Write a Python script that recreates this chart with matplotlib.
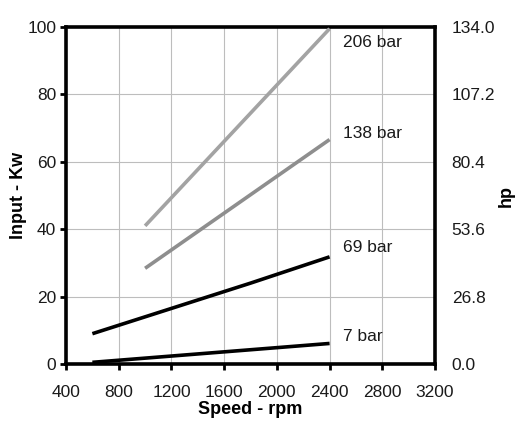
import matplotlib
matplotlib.use("Agg")
import matplotlib.pyplot as plt

plt.rcParams['font.family'] = ['Liberation Sans', 'DejaVu Sans']

# Data
speed_206 = [1000, 2400]
kw_206 = [41, 99.5]
speed_138 = [1000, 2400]
kw_138 = [28.4, 66.6]
speed_69 = [600, 1200, 1800, 2400]
kw_69 = [9.0, 16.5, 24.0, 31.8]
speed_7 = [600, 2400]
kw_7 = [0.5, 6.1]

labels = ["206 bar", "138 bar", "69 bar", "7 bar"]
label_x = [2500, 2500, 2500, 2500]
label_y = [95.5, 68.5, 34.5, 8.3]

xticks = [400, 800, 1200, 1600, 2000, 2400, 2800, 3200]
yticks = [0, 20, 40, 60, 80, 100]
hp_ticks = ["0.0", "26.8", "53.6", "80.4", "107.2", "134.0"]

FS = 12.5
TXT = '#1a1a1a'

fig = plt.figure(figsize=(5.17, 4.22), dpi=100)
ax = fig.add_axes([0.1277, 0.1374, 0.7137, 0.7986])

ax.plot(speed_206, kw_206, color='#a3a3a3', lw=2.6, solid_capstyle='butt', zorder=3)
ax.plot(speed_138, kw_138, color='#8e8e8e', lw=2.6, solid_capstyle='butt', zorder=3)
ax.plot(speed_69, kw_69, color='black', lw=2.6, solid_capstyle='butt', zorder=3)
ax.plot(speed_7, kw_7, color='black', lw=2.6, solid_capstyle='butt', zorder=3)

for t, x, y in zip(labels, label_x, label_y):
    ax.text(x, y, t, fontsize=FS, ha='left', va='center', color=TXT)

ax.set_xlim(400, 3200)
ax.set_ylim(0, 100)
ax.set_xticks(xticks)
ax.set_yticks(yticks)
ax.grid(True, color='#bdbdbd', lw=0.8)
ax.set_axisbelow(True)
for s in ax.spines.values():
    s.set_linewidth(2.6)
ax.tick_params(axis='both', direction='out', length=4, width=2, labelsize=FS,
               color='black', labelcolor=TXT)
ax.tick_params(axis='x', pad=11)
ax.tick_params(axis='y', pad=3)
ax.set_xlabel("Speed - rpm", fontsize=13, fontweight='bold', labelpad=1)
ax.set_ylabel("Input - Kw", fontsize=13, fontweight='bold', labelpad=0)

ax2 = ax.twinx()
ax2.set_ylim(0, 100)
ax2.set_yticks(yticks)
ax2.set_yticklabels(hp_ticks)
ax2.tick_params(axis='y', length=0, pad=12, labelsize=FS, labelcolor=TXT)
for s in ax2.spines.values():
    s.set_visible(False)
ax2.set_ylabel("hp", fontsize=13, fontweight='bold', labelpad=2)

fig.savefig("out.png", dpi=100)
